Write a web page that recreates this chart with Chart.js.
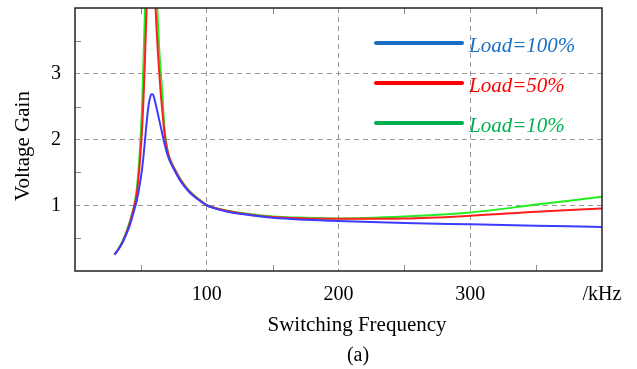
<!DOCTYPE html>
<html>
<head>
<meta charset="utf-8">
<script src="https://cdn.jsdelivr.net/npm/chart.js@4.4.0/dist/chart.umd.min.js"></script>
<style>
  html, body { margin: 0; padding: 0; background: #fff; }
  #wrap { width: 637px; height: 369px; }
</style>
</head>
<body>
<div id="wrap"><canvas id="gain" width="637" height="369"></canvas></div>
<script>
// switching frequency, kHz
const freqKHz = [30, 33, 36, 39, 42, 45, 46, 47, 48, 49, 50, 51, 52, 53, 54, 55, 56, 57, 58, 59, 60, 61,
  62, 63, 64, 65, 66, 68, 70, 72, 75, 80, 85, 90, 95, 100, 105, 110, 115, 125, 150, 175, 200, 250, 300, 350, 400];

// voltage gain
const gainLoad100 = [0.25, 0.33, 0.43, 0.56, 0.72, 0.93, 1.0, 1.08, 1.18, 1.3, 1.42, 1.57, 1.75, 1.96, 2.18,
  2.38, 2.54, 2.64, 2.69, 2.69, 2.64, 2.56, 2.47, 2.38, 2.29, 2.2, 2.11, 1.93, 1.78, 1.67, 1.55, 1.37,
  1.24, 1.14, 1.065, 1.0, 0.96, 0.93, 0.905, 0.87, 0.81, 0.78, 0.76, 0.73, 0.71, 0.69, 0.67];
const gainLoad50 = [0.25, 0.33, 0.44, 0.58, 0.76, 0.99, 1.08, 1.2, 1.38, 1.6, 1.88, 2.2, 2.62, 3.15, 3.8,
  4.4, 5.0, 5.5, 5.7, 5.5, 4.9, 4.1, 3.65, 3.3, 3.0, 2.72, 2.5, 2.08, 1.84, 1.7, 1.57, 1.39,
  1.25, 1.15, 1.07, 1.0, 0.965, 0.94, 0.915, 0.88, 0.82, 0.8, 0.795, 0.8, 0.84, 0.9, 0.95];
const gainLoad10 = [0.25, 0.34, 0.45, 0.6, 0.78, 1.01, 1.12, 1.27, 1.48, 1.75, 2.1, 2.55, 3.2, 3.9, 4.8,
  5.8, 7.0, 8.2, 9.0, 8.6, 7.2, 5.6, 4.3, 3.75, 3.35, 3.05, 2.78, 2.15, 1.86, 1.71, 1.58, 1.4,
  1.26, 1.16, 1.075, 1.0, 0.965, 0.94, 0.92, 0.885, 0.83, 0.81, 0.80, 0.83, 0.89, 1.01, 1.13];

const seriesNames = ["Load=100%", "Load=50%", "Load=10%"];
const xTickValues = [100, 200, 300];
const xUnitLabel = "/kHz";
const yTickValues = [1, 2, 3];

const serif = "'Liberation Serif', 'Times New Roman', serif";
Chart.defaults.font.family = serif;
Chart.defaults.color = "#000";

const toPoints = (ys) => freqKHz.map((f, i) => ({ x: f, y: ys[i] }));

// drop the label overhang padding so the plot box sits where the picture has it
const noOverhang = (s) => {
  s.paddingTop = 0; s.paddingBottom = 0; s.paddingLeft = 0; s.paddingRight = 0;
};

// frame, inner minor ticks, titles and the in-plot legend
const decorations = {
  id: "decorations",
  afterDraw(chart) {
    const { ctx, chartArea: a, scales } = chart;
    const x = scales.x, y = scales.y;
    ctx.save();

    ctx.strokeStyle = "#888";
    ctx.lineWidth = 1;
    ctx.beginPath();
    [50, 150, 250, 350].forEach(v => {
      const px = Math.round(x.getPixelForValue(v)) + 0.5;
      ctx.moveTo(px, a.bottom); ctx.lineTo(px, a.bottom - 6);
      ctx.moveTo(px, a.top); ctx.lineTo(px, a.top + 6);
    });
    [0.5, 1.5, 2.5, 3.5].forEach(v => {
      const py = Math.round(y.getPixelForValue(v)) + 0.5;
      ctx.moveTo(a.left, py); ctx.lineTo(a.left + 6, py);
    });
    ctx.stroke();

    ctx.strokeStyle = "#222";
    ctx.lineWidth = 1.5;
    ctx.strokeRect(a.left, a.top, a.right - a.left, a.bottom - a.top);

    ctx.fillStyle = "#000";
    ctx.font = "21px " + serif;
    ctx.textAlign = "center";
    ctx.textBaseline = "alphabetic";
    ctx.fillText("Switching Frequency", 357, 331);
    ctx.font = "20px " + serif;
    ctx.fillText("(a)", 358, 361);

    ctx.save();
    ctx.font = "21px " + serif;
    ctx.translate(29, 146);
    ctx.rotate(-Math.PI / 2);
    ctx.fillText("Voltage Gain", 0, 0);
    ctx.restore();

    const legendColors = ["#1a6fc4", "#ff0000", "#00b050"];
    ctx.font = "italic 21px " + serif;
    ctx.textAlign = "left";
    seriesNames.forEach((name, i) => {
      const ly = a.top + 35 + i * 40;
      ctx.strokeStyle = legendColors[i];
      ctx.lineWidth = 4;
      ctx.lineCap = "round";
      ctx.beginPath();
      ctx.moveTo(376, ly); ctx.lineTo(462, ly);
      ctx.stroke();
      ctx.fillStyle = legendColors[i];
      ctx.fillText(name, 469, ly + 8.5);
    });
    ctx.restore();
  }
};

new Chart(document.getElementById("gain"), {
  type: "line",
  data: {
    datasets: [
      { label: seriesNames[0], data: toPoints(gainLoad100), borderColor: "#3c3cff" },
      { label: seriesNames[1], data: toPoints(gainLoad50), borderColor: "#ff1e1e" },
      { label: seriesNames[2], data: toPoints(gainLoad10), borderColor: "#22ee22" }
    ]
  },
  options: {
    responsive: false,
    animation: false,
    layout: { padding: { top: 8, right: 35, left: 0, bottom: 0 } },
    elements: {
      point: { radius: 0 },
      line: { borderWidth: 2, cubicInterpolationMode: "monotone" }
    },
    plugins: { legend: { display: false }, tooltip: { enabled: false } },
    scales: {
      x: {
        type: "linear",
        min: 0,
        max: 400,
        afterBuildTicks: (s) => { s.ticks = [...xTickValues, 400].map(v => ({ value: v })); },
        afterFit: (s) => { s.height = 98; noOverhang(s); },
        border: { display: false, dash: [5, 4] },
        grid: {
          drawTicks: false,
          color: (c) => xTickValues.includes(c.tick.value) ? "#999" : "transparent"
        },
        ticks: {
          padding: 12,
          maxRotation: 0,
          autoSkip: false,
          font: { size: 20 },
          callback: (v) => v === 400 ? xUnitLabel : String(v)
        }
      },
      y: {
        min: 0,
        max: 4,
        afterBuildTicks: (s) => { s.ticks = yTickValues.map(v => ({ value: v })); },
        afterFit: (s) => { s.width = 75; noOverhang(s); },
        border: { display: false, dash: [5, 4] },
        grid: { drawTicks: false, color: "#999" },
        ticks: {
          padding: 14,
          font: { size: 20 },
          callback: (v) => String(v)
        }
      }
    }
  },
  plugins: [decorations]
});
</script>
</body>
</html>
